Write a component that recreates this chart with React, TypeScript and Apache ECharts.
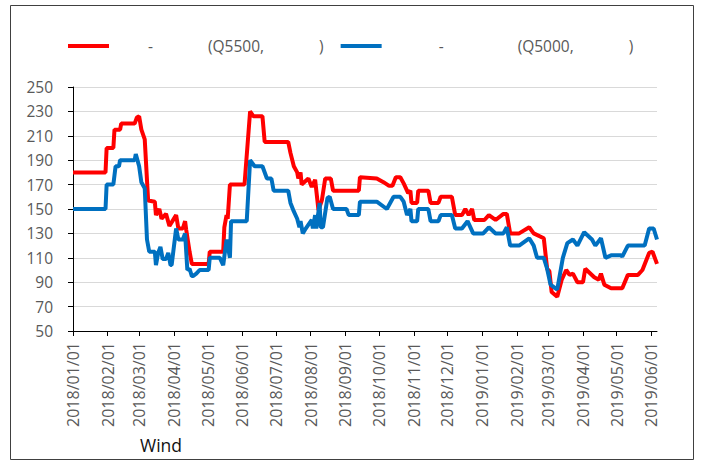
import React, { useEffect, useRef } from "react";
import * as echarts from "echarts";

// axis domain
const START_DATE = "2018-01-01";
const END_DATE = "2019-06-06";
const Y_MIN = 50;
const Y_MAX = 250;
const Y_STEP = 20;

// series labels (as visible in the reference)
const SERIES_NAMES = ["q5500", "q5000"];
const LEGEND_PARTS = [
  ["-", "(Q5500,", ")"],
  ["-", "(Q5000,", ")"],
];
const SOURCE_TEXT = "Wind";

// red series: date, value
const q5500: [string, number][] = [
  ["2018-01-01", 180], ["2018-01-30", 180], ["2018-01-31", 200], ["2018-02-06", 200],
  ["2018-02-07", 215], ["2018-02-12", 215], ["2018-02-13", 220], ["2018-02-25", 220],
  ["2018-02-27", 225], ["2018-03-01", 226], ["2018-03-03", 215], ["2018-03-06", 207],
  ["2018-03-09", 157], ["2018-03-15", 156], ["2018-03-16", 145], ["2018-03-19", 150],
  ["2018-03-21", 142], ["2018-03-25", 146], ["2018-03-28", 136], ["2018-04-03", 145],
  ["2018-04-05", 134], ["2018-04-09", 134], ["2018-04-11", 140], ["2018-04-12", 133],
  ["2018-04-15", 115], ["2018-04-17", 105], ["2018-05-02", 105], ["2018-05-03", 115],
  ["2018-05-15", 115], ["2018-05-16", 135], ["2018-05-18", 145], ["2018-05-19", 142],
  ["2018-05-21", 170], ["2018-06-03", 170], ["2018-06-08", 230], ["2018-06-11", 226],
  ["2018-06-19", 226], ["2018-06-21", 205], ["2018-07-12", 205], ["2018-07-14", 196],
  ["2018-07-17", 185], ["2018-07-20", 180], ["2018-07-21", 175], ["2018-07-23", 180],
  ["2018-07-24", 170], ["2018-07-30", 175], ["2018-08-02", 168], ["2018-08-05", 174],
  ["2018-08-08", 149], ["2018-08-11", 157], ["2018-08-14", 175], ["2018-08-19", 175],
  ["2018-08-21", 165], ["2018-09-13", 165], ["2018-09-14", 176], ["2018-09-29", 175],
  ["2018-10-05", 172], ["2018-10-10", 169], ["2018-10-13", 169], ["2018-10-16", 176],
  ["2018-10-20", 176], ["2018-10-23", 171], ["2018-10-27", 163], ["2018-10-29", 165],
  ["2018-10-30", 155], ["2018-11-04", 155], ["2018-11-05", 165], ["2018-11-14", 165],
  ["2018-11-16", 155], ["2018-11-23", 155], ["2018-11-25", 160], ["2018-12-05", 160],
  ["2018-12-08", 145], ["2018-12-14", 145], ["2018-12-17", 150], ["2018-12-20", 145],
  ["2018-12-23", 150], ["2018-12-25", 141], ["2019-01-03", 141], ["2019-01-07", 145],
  ["2019-01-13", 141], ["2019-01-20", 146], ["2019-01-23", 146], ["2019-01-26", 130],
  ["2019-02-03", 130], ["2019-02-12", 135], ["2019-02-16", 130], ["2019-02-25", 126],
  ["2019-02-28", 101], ["2019-03-02", 99], ["2019-03-04", 82], ["2019-03-09", 78],
  ["2019-03-13", 92], ["2019-03-17", 100], ["2019-03-20", 96], ["2019-03-23", 97],
  ["2019-03-27", 90], ["2019-04-01", 90], ["2019-04-03", 101], ["2019-04-11", 94],
  ["2019-04-15", 92], ["2019-04-17", 97], ["2019-04-20", 88], ["2019-04-26", 85],
  ["2019-05-06", 85], ["2019-05-11", 96], ["2019-05-20", 96], ["2019-05-24", 100],
  ["2019-05-30", 114], ["2019-06-02", 115], ["2019-06-06", 105],
];

// blue series: date, value
const q5000: [string, number][] = [
  ["2018-01-01", 150], ["2018-01-30", 150], ["2018-01-31", 170], ["2018-02-06", 170],
  ["2018-02-08", 185], ["2018-02-11", 185], ["2018-02-12", 190], ["2018-02-25", 190],
  ["2018-02-26", 195], ["2018-03-01", 185], ["2018-03-03", 172], ["2018-03-06", 167],
  ["2018-03-08", 125], ["2018-03-10", 115], ["2018-03-15", 115], ["2018-03-16", 104],
  ["2018-03-18", 114], ["2018-03-20", 119], ["2018-03-22", 109], ["2018-03-25", 109],
  ["2018-03-27", 114], ["2018-03-29", 104], ["2018-03-30", 104], ["2018-04-03", 134],
  ["2018-04-05", 125], ["2018-04-09", 125], ["2018-04-11", 130], ["2018-04-13", 100],
  ["2018-04-15", 101], ["2018-04-17", 95], ["2018-04-18", 95], ["2018-04-21", 97],
  ["2018-04-24", 100], ["2018-05-02", 100], ["2018-05-03", 110], ["2018-05-12", 110],
  ["2018-05-15", 104], ["2018-05-18", 125], ["2018-05-21", 110], ["2018-05-22", 140],
  ["2018-06-05", 140], ["2018-06-08", 190], ["2018-06-12", 185], ["2018-06-19", 185],
  ["2018-06-23", 175], ["2018-06-27", 175], ["2018-06-29", 165], ["2018-07-12", 165],
  ["2018-07-14", 155], ["2018-07-17", 148], ["2018-07-20", 142], ["2018-07-22", 135],
  ["2018-07-23", 140], ["2018-07-25", 130], ["2018-07-27", 133], ["2018-08-02", 141],
  ["2018-08-03", 134], ["2018-08-05", 145], ["2018-08-06", 134], ["2018-08-09", 155],
  ["2018-08-10", 135], ["2018-08-12", 135], ["2018-08-16", 159], ["2018-08-18", 160],
  ["2018-08-21", 150], ["2018-09-02", 150], ["2018-09-04", 145], ["2018-09-13", 145],
  ["2018-09-14", 156], ["2018-09-29", 156], ["2018-10-08", 150], ["2018-10-14", 160],
  ["2018-10-20", 160], ["2018-10-23", 156], ["2018-10-26", 145], ["2018-10-29", 150],
  ["2018-10-30", 140], ["2018-11-04", 140], ["2018-11-05", 150], ["2018-11-14", 150],
  ["2018-11-16", 140], ["2018-11-23", 140], ["2018-11-25", 145], ["2018-12-05", 145],
  ["2018-12-08", 134], ["2018-12-14", 134], ["2018-12-19", 140], ["2018-12-24", 130],
  ["2019-01-02", 130], ["2019-01-07", 135], ["2019-01-13", 130], ["2019-01-20", 130],
  ["2019-01-23", 135], ["2019-01-26", 120], ["2019-02-03", 120], ["2019-02-12", 126],
  ["2019-02-16", 120], ["2019-02-19", 110], ["2019-02-25", 110], ["2019-02-28", 101],
  ["2019-03-03", 88], ["2019-03-09", 84], ["2019-03-14", 110], ["2019-03-18", 122],
  ["2019-03-23", 125], ["2019-03-27", 120], ["2019-04-02", 131], ["2019-04-09", 125],
  ["2019-04-12", 120], ["2019-04-17", 126], ["2019-04-21", 110], ["2019-04-26", 112],
  ["2019-05-05", 112], ["2019-05-06", 111], ["2019-05-11", 120], ["2019-05-26", 120],
  ["2019-05-30", 134], ["2019-06-03", 134], ["2019-06-06", 125],
];

function buildDays(start: string, end: string): string[] {
  const out: string[] = [];
  const [sy, sm, sd] = start.split("-").map(Number);
  const [ey, em, ed] = end.split("-").map(Number);
  let t = Date.UTC(sy, sm - 1, sd);
  const stop = Date.UTC(ey, em - 1, ed);
  while (t <= stop) {
    const d = new Date(t);
    const s =
      d.getUTCFullYear() +
      "-" +
      String(d.getUTCMonth() + 1).padStart(2, "0") +
      "-" +
      String(d.getUTCDate()).padStart(2, "0");
    out.push(s);
    t += 86400000;
  }
  return out;
}

const FONT = "'Open Sans', 'Noto Sans', sans-serif";
const GRAY = "#595959";

export default function App() {
  const ref = useRef<HTMLDivElement>(null);

  useEffect(() => {
    if (!ref.current) return;
    const chart = echarts.init(ref.current, undefined, { renderer: "svg" });
    const days = buildDays(START_DATE, END_DATE);
    const isMonthStart = (_i: number, v: string) => v.slice(8) === "01";

    const gapStyles = {
      a1: { width: 34 },
      a2: { width: 55 },
      a3: { width: 55 },
      b1: { width: 52 },
      b2: { width: 74 },
      b3: { width: 55 },
    };

    const option: any = {
      animation: false,
      backgroundColor: "#ffffff",
      textStyle: { fontFamily: FONT },
      grid: { left: 73, right: 44, top: 87, bottom: 131 },
      legend: {
        left: 68,
        top: 36,
        padding: 0,
        itemGap: 17,
        itemWidth: 41,
        itemHeight: 4,
        icon: "rect",
        data: SERIES_NAMES,
        textStyle: {
          fontFamily: FONT,
          fontSize: 15.5,
          color: GRAY,
          lineHeight: 20,
          rich: Object.fromEntries(
            Object.entries(gapStyles).map(([k, v]) => [k, { ...v, fontSize: 15.5, lineHeight: 20 }])
          ),
        },
        formatter: (name: string) => {
          const idx = SERIES_NAMES.indexOf(name);
          const p = LEGEND_PARTS[idx];
          const g = idx === 0 ? "a" : "b";
          return `{${g}1|\u00a0}${p[0]}{${g}2|\u00a0}${p[1]}{${g}3|\u00a0}${p[2]}`;
        },
      },
      xAxis: {
        type: "category",
        data: days,
        boundaryGap: false,
        axisLine: { lineStyle: { color: "#000000", width: 1 } },
        axisTick: { show: true, interval: isMonthStart, length: 5, lineStyle: { color: "#000000" } },
        axisLabel: {
          interval: isMonthStart,
          rotate: 90,
          margin: 11,
          fontSize: 16,
          fontFamily: FONT,
          color: GRAY,
          formatter: (v: string) => v.replace(/-/g, "/"),
        },
        splitLine: { show: false },
      },
      yAxis: {
        type: "value",
        min: Y_MIN,
        max: Y_MAX,
        interval: Y_STEP,
        axisLine: { show: true, lineStyle: { color: "#000000", width: 1 } },
        axisTick: { show: true, length: 5, lineStyle: { color: "#000000" } },
        axisLabel: { margin: 20, fontSize: 15.5, fontFamily: FONT, color: GRAY },
        splitLine: { show: true, lineStyle: { color: "#d9d9d9", width: 1 } },
      },
      series: [
        {
          name: SERIES_NAMES[0],
          type: "line",
          data: q5500,
          showSymbol: false,
          symbol: "none",
          lineStyle: { color: "#ff0000", width: 4 },
          itemStyle: { color: "#ff0000" },
        },
        {
          name: SERIES_NAMES[1],
          type: "line",
          data: q5000,
          showSymbol: false,
          symbol: "none",
          lineStyle: { color: "#0070c0", width: 4 },
          itemStyle: { color: "#0070c0" },
        },
      ],
      graphic: [
        {
          type: "rect",
          shape: { x: 10.5, y: 5.5, width: 683, height: 454 },
          style: { fill: "none", stroke: "#404040", lineWidth: 1 },
          silent: true,
        },
        {
          type: "text",
          x: 140,
          y: 445,
          style: {
            text: SOURCE_TEXT,
            fontSize: 17.5,
            fontFamily: FONT,
            fill: "#111111",
            textVerticalAlign: "middle",
          },
        },
      ],
    };
    chart.setOption(option);
    return () => chart.dispose();
  }, []);

  return (
    <div
      ref={ref}
      style={{ position: "fixed", left: 0, top: 0, width: 701, height: 462 }}
    />
  );
}
